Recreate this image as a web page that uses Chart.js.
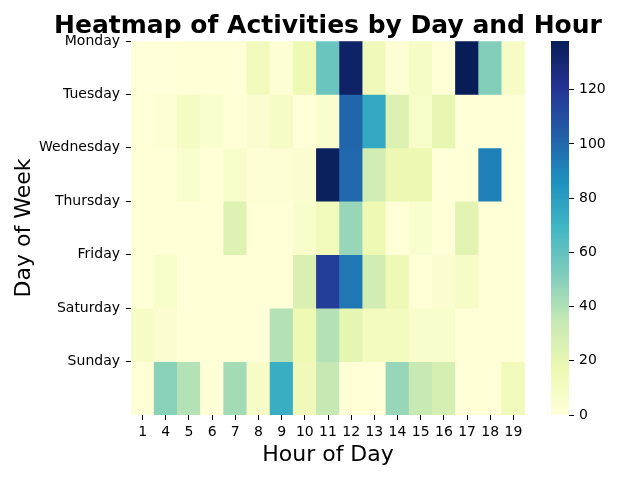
<!DOCTYPE html>
<html>
<head>
<meta charset="utf-8">
<title>Heatmap of Activities by Day and Hour</title>
<script src="https://cdn.jsdelivr.net/npm/chart.js@4.4.1/dist/chart.umd.min.js"></script>
<style>
  html, body { margin: 0; padding: 0; background: #fff; }
  #wrap { position: relative; width: 640px; height: 480px; }
  #heat { position: absolute; left: 0; top: 0; }
  #bar { position: absolute; left: 540px; top: 0; }
</style>
</head>
<body>
<div id="wrap">
  <canvas id="heat" width="640" height="480"></canvas>
  <canvas id="bar" width="100" height="480"></canvas>
</div>
<script>
// data
const days = ['Monday', 'Tuesday', 'Wednesday', 'Thursday', 'Friday', 'Saturday', 'Sunday'];
const hours = ['1', '4', '5', '6', '7', '8', '9', '10', '11', '12', '13', '14', '15', '16', '17', '18', '19'];

const monday    = [0, 0, 1, 1, 1, 13, 2, 16, 58, 134, 14, 2, 8, 1, 138, 51, 8];
const tuesday   = [1, 2, 9, 5, 1, 4, 8, 1, 5, 101, 75, 25, 7, 20, 1, 1, 1];
const wednesday = [1, 1, 5, 1, 7, 2, 2, 4, 136, 100, 30, 17, 17, 1, 1, 92, 1];
const thursday  = [1, 1, 1, 1, 24, 1, 1, 6, 13, 46, 16, 1, 5, 1, 22, 1, 1];
const friday    = [1, 7, 1, 1, 1, 1, 1, 26, 117, 95, 30, 15, 1, 4, 8, 1, 1];
const saturday  = [8, 4, 1, 1, 1, 1, 39, 16, 39, 21, 11, 11, 6, 6, 1, 1, 1];
const sunday    = [1, 49, 39, 1, 43, 8, 73, 14, 35, 1, 1, 46, 34, 28, 1, 1, 13];

const counts = [monday, tuesday, wednesday, thursday, friday, saturday, sunday];

const chartTitle = 'Heatmap of Activities by Day and Hour';

// YlGnBu colormap
const ylgnbu = [
  [255, 255, 217], [237, 248, 177], [199, 233, 180], [127, 205, 187], [65, 182, 196],
  [29, 145, 192], [34, 94, 168], [37, 52, 148], [8, 29, 88]
];

const allValues = counts.flat();
const vmin = Math.min(...allValues);
const vmax = Math.max(...allValues);

function colorFor(v) {
  const t = (v - vmin) / (vmax - vmin) * (ylgnbu.length - 1);
  const i = Math.min(ylgnbu.length - 2, Math.floor(t));
  const f = t - i;
  const a = ylgnbu[i], b = ylgnbu[i + 1];
  const c = a.map((x, k) => Math.round(x + (b[k] - x) * f));
  return `rgb(${c[0]}, ${c[1]}, ${c[2]})`;
}

Chart.defaults.font.family = "'DejaVu Sans', sans-serif";
Chart.defaults.color = '#000';

// title centred over the plot area, like matplotlib
const plotTitle = {
  id: 'plotTitle',
  afterDraw(chart) {
    const { ctx, chartArea: a } = chart;
    ctx.save();
    ctx.font = "bold 25px 'DejaVu Sans', sans-serif";
    ctx.fillStyle = '#000';
    ctx.textAlign = 'center';
    ctx.textBaseline = 'alphabetic';
    ctx.fillText(chartTitle, (a.left + a.right) / 2, 33);
    ctx.restore();
  }
};

// heatmap: one row of floating bars per day
const datasets = days.map((day, d) => ({
  label: day,
  data: counts[d].map(() => [d, d + 1]),
  counts: counts[d],
  backgroundColor: counts[d].map(colorFor),
  borderWidth: 0,
  grouped: false,
  barPercentage: 1,
  categoryPercentage: 1
}));

new Chart(document.getElementById('heat'), {
  type: 'bar',
  data: { labels: hours, datasets },
  options: {
    responsive: false,
    animation: false,
    layout: { padding: { left: 0, right: 115, top: 41, bottom: 0 } },
    plugins: {
      legend: { display: false },
      title: { display: false },
      tooltip: {
        callbacks: {
          title: items => items[0].dataset.label + ', hour ' + items[0].label,
          label: item => 'count: ' + item.dataset.counts[item.dataIndex]
        }
      }
    },
    scales: {
      x: {
        type: 'category',
        offset: true,
        grid: { offset: false, drawOnChartArea: false, tickLength: 5, color: '#000' },
        border: { display: false },
        ticks: { font: { size: 14 }, color: '#000', padding: 4, maxRotation: 0, autoSkip: false },
        title: { display: true, text: 'Hour of Day', font: { size: 22 }, color: '#000', padding: { top: 0, bottom: 12 } },
        afterFit: s => { s.height = 65; }
      },
      y: {
        type: 'linear',
        min: 0,
        max: days.length,
        reverse: true,
        grid: { drawOnChartArea: false, tickLength: 5, color: '#000' },
        border: { display: false },
        ticks: { stepSize: 1, font: { size: 14 }, color: '#000', padding: 6, callback: v => days[v] ?? '' },
        afterBuildTicks: s => { s.ticks = s.ticks.filter(t => t.value < days.length); },
        title: { display: true, text: 'Day of Week', font: { size: 22 }, color: '#000', padding: { top: 11, bottom: 0 } },
        afterFit: s => { s.width = 131; }
      }
    }
  },
  plugins: [plotTitle]
});

// colorbar
const gradientBar = {
  id: 'gradientBar',
  beforeDraw(chart) {
    const { ctx, chartArea: a } = chart;
    const g = ctx.createLinearGradient(0, a.bottom, 0, a.top);
    ylgnbu.forEach((c, i) => g.addColorStop(i / (ylgnbu.length - 1), `rgb(${c[0]}, ${c[1]}, ${c[2]})`));
    ctx.save();
    ctx.fillStyle = g;
    ctx.fillRect(a.left, a.top, a.right - a.left, a.bottom - a.top);
    ctx.restore();
  }
};

new Chart(document.getElementById('bar'), {
  type: 'bar',
  data: { labels: [''], datasets: [{ data: [] }] },
  options: {
    responsive: false,
    animation: false,
    events: [],
    layout: { padding: { left: 11, right: 0, top: 41, bottom: 65 } },
    plugins: { legend: { display: false }, tooltip: { enabled: false } },
    scales: {
      x: { display: false },
      y: {
        position: 'right',
        min: vmin,
        max: vmax,
        grid: { drawOnChartArea: false, tickLength: 5, color: '#000' },
        border: { display: false },
        ticks: { stepSize: 20, font: { size: 14 }, color: '#000', padding: 5 },
        afterBuildTicks: s => { s.ticks = s.ticks.filter(t => t.value % 20 === 0); },
        afterFit: s => { s.width = 71; }
      }
    }
  },
  plugins: [gradientBar]
});
</script>
</body>
</html>
